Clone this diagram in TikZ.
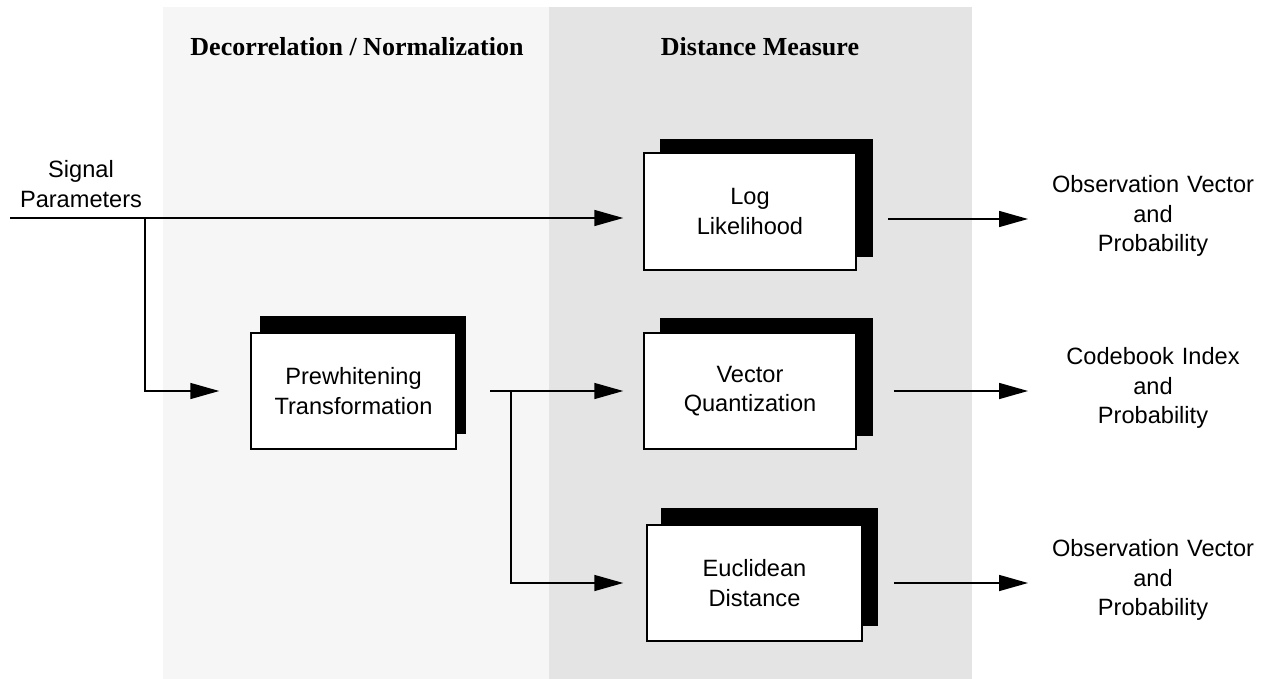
\documentclass[tikz,border=0pt]{standalone}
\usepackage{fontspec}
\setmainfont{Liberation Sans}
\newfontfamily\serifb{Liberation Serif}
\usetikzlibrary{arrows.meta,shadows}
\definecolor{lightp}{HTML}{F6F6F6}
\definecolor{darkp}{HTML}{E4E4E4}
\begin{document}
\begin{tikzpicture}[x=1pt,y=-1pt,
  txt/.style={font=\fontsize{23.6}{29.5}\selectfont, align=center, inner sep=0pt},
  ttl/.style={font=\serifb\bfseries\fontsize{26}{30}\selectfont, inner sep=0pt},
  blk/.style={txt, draw=black, line width=1.5pt, fill=white},
  outtxt/.style={txt, text width=250pt},
  conn/.style={line width=1.5pt},
  arr/.style={conn, -{Triangle[length=29pt,width=16pt]}},
]
\useasboundingbox (0,0) rectangle (1269,679);
\fill[white] (0,0) rectangle (1269,679);
% panels
\fill[lightp] (163,7) rectangle (549,679);
\fill[darkp] (549,7) rectangle (972,679);
% titles
\node[ttl] (t1) at (357,47) {Decorrelation / Normalization};
\node[ttl] (t2) at (760,47) {Distance Measure};
% input label
\node[txt] (sp) at (81,184) {Signal\\Parameters};
% boxes
\node[blk, minimum width=212pt, minimum height=117pt,
  copy shadow={shadow xshift=16.5pt, shadow yshift=13.5pt, fill=black, draw=black}]
  (LL) at (750,211.5) {Log\\Likelihood};
\node[blk, minimum width=212pt, minimum height=116pt,
  copy shadow={shadow xshift=16.5pt, shadow yshift=14pt, fill=black, draw=black}]
  (VQ) at (750,391) {Vector\\Quantization};
\node[blk, minimum width=215pt, minimum height=116pt,
  copy shadow={shadow xshift=15pt, shadow yshift=16pt, fill=black, draw=black}]
  (ED) at (754.5,583) {Euclidean\\Distance};
\node[blk, minimum width=205pt, minimum height=116pt,
  copy shadow={shadow xshift=9.5pt, shadow yshift=16pt, fill=black, draw=black}]
  (PW) at (353.5,391) {Prewhitening\\Transformation};
% outputs
\node[outtxt] (out1) at (1153,216) {Observation Vector\\and\\Probability};
\node[outtxt] (out2) at (1153,388) {Codebook Index\\and\\Probability};
\node[outtxt] (out3) at (1153,580) {Observation Vector\\and\\Probability};
% connectors
\coordinate (sig) at (10,218);
\coordinate (br1) at (145,218);
\coordinate (br2) at (511,391);
\coordinate (pwo) at (490,391);
\draw[arr, shorten >=20pt] (sig) -- (sig -| LL.west);
\draw[arr, shorten >=31pt] (br1) |- (PW.west);
\draw[arr, shorten >=20pt] (pwo) -- (VQ.west);
\draw[arr, shorten >=23pt] (br2) |- (ED.west);
\coordinate (o1) at (1028,219);
\coordinate (o2) at (1028,391);
\coordinate (o3) at (1028,583);
\draw[arr, shorten <=31pt] (LL.east |- o1) -- (o1);
\draw[arr, shorten <=37pt] (VQ.east |- o2) -- (o2);
\draw[arr, shorten <=31pt] (ED.east |- o3) -- (o3);
\end{tikzpicture}
\end{document}
